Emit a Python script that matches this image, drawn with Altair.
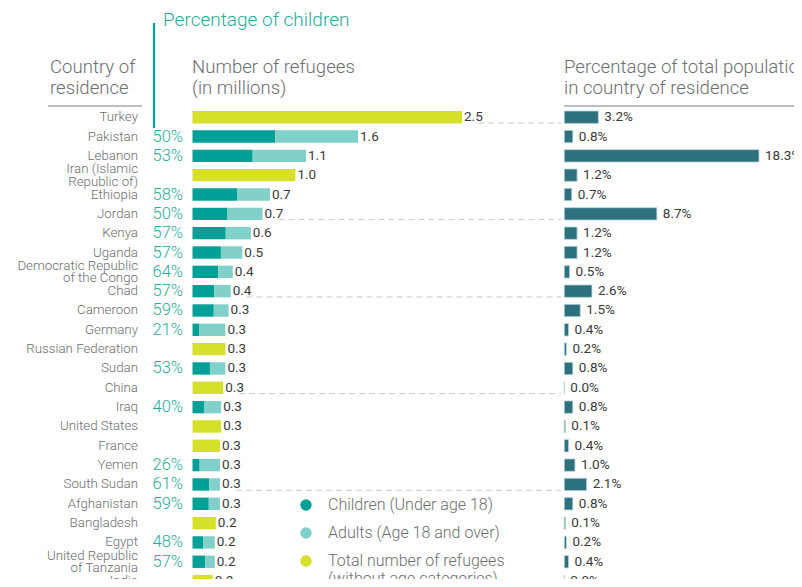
import altair as alt
import pandas as pd

countries = ["Turkey", "Pakistan", "Lebanon", "Iran (Islamic\nRepublic of)", "Ethiopia", "Jordan",
             "Kenya", "Uganda", "Democratic Republic\nof the Congo", "Chad", "Cameroon", "Germany",
             "Russian Federation", "Sudan", "China", "Iraq", "United States", "France", "Yemen",
             "South Sudan", "Afghanistan", "Bangladesh", "Egypt", "United Republic\nof Tanzania", "India"]
refugees_millions = [2.54, 1.56, 1.07, 0.97, 0.73, 0.66, 0.55, 0.47, 0.38, 0.36, 0.34, 0.31, 0.31,
                     0.31, 0.29, 0.27, 0.27, 0.26, 0.26, 0.26, 0.26, 0.22, 0.21, 0.21, 0.19]
children_pct = [None, 50, 53, None, 58, 50, 57, 57, 64, 57, 59, 21, None, 53, None, 40, None, None,
                26, 61, 59, None, 48, 57, None]
population_pct = [3.2, 0.8, 18.3, 1.2, 0.7, 8.7, 1.2, 1.2, 0.5, 2.6, 1.5, 0.4, 0.2, 0.8, 0.0, 0.8,
                  0.1, 0.4, 1.0, 2.1, 0.8, 0.1, 0.2, 0.4, 0.0]
dashed_after = ["Turkey", "Jordan", "Chad", "China", "South Sudan", "India"]
segments = ["Children (Under age 18)", "Adults (Age 18 and over)",
            "Total number of refugees (without age categories)"]
segment_colors = ["#00a096", "#82d0ca", "#d6df2a"]

GREY = "#6d6e71"
DARK = "#3a3a3a"
TEAL_TXT = "#2aaa9c"
FONT = "Roboto"

rows = pd.DataFrame({
    "country": countries,
    "total": refugees_millions,
    "pct": children_pct,
    "pop": population_pct,
    "row": list(range(len(countries))),
})
rows["pct_label"] = rows["pct"].apply(lambda v: "" if pd.isna(v) else f"{int(v)}%")
rows["dashed"] = rows["country"].isin(dashed_after)

segs = []
for _, r in rows.iterrows():
    if pd.isna(r["pct"]):
        segs.append({"row": r["row"], "segment": segments[2], "start": 0.0, "end": r["total"]})
    else:
        c = r["total"] * r["pct"] / 100.0
        segs.append({"row": r["row"], "segment": segments[0], "start": 0.0, "end": c})
        segs.append({"row": r["row"], "segment": segments[1], "start": c, "end": r["total"]})
segs = pd.DataFrame(segs)

xl = alt.Scale(domain=[0, 2.54], range=[184.5, 454], nice=False, zero=False)
xr = alt.Scale(domain=[0, 18.3], range=[556.3, 751], nice=False, zero=False)
ys = alt.Scale(domain=[0, 24], range=[109.2, 573.1], nice=False, zero=False)

bars = alt.Chart(segs).transform_calculate(
    top="datum.row - 0.32", bot="datum.row + 0.32"
).mark_rect().encode(
    x=alt.X("start:Q", scale=xl, axis=None),
    x2="end:Q",
    y=alt.Y("top:Q", scale=ys, axis=None),
    y2="bot:Q",
    color=alt.Color("segment:N", scale=alt.Scale(domain=segments, range=segment_colors),
                    legend=alt.Legend(
                        title=None, orient="none", legendX=290, legendY=489,
                        symbolType="circle", symbolSize=130, symbolStrokeWidth=0,
                        labelFont=FONT, labelFontSize=16, labelColor=GREY, labelFontWeight=300,
                        labelOffset=14, labelLimit=400, rowPadding=12,
                        labelExpr="split(replace(datum.label, ' (without', '|(without'), '|')")),
)

value_labels = alt.Chart(rows).mark_text(
    align="left", baseline="middle", dx=2, font=FONT, fontSize=13.5, color=DARK
).encode(
    x=alt.X("total:Q", scale=xl, axis=None),
    y=alt.Y("row:Q", scale=ys, axis=None),
    text=alt.Text("total:Q", format=".1f"),
)

pct_labels = alt.Chart(rows).mark_text(
    align="right", baseline="middle", font=FONT, fontSize=16.5, color=TEAL_TXT, fontWeight=300
).encode(
    x=alt.value(175),
    y=alt.Y("row:Q", scale=ys, axis=None),
    text="pct_label:N",
)

country_labels = alt.Chart(rows).transform_calculate(
    ty="indexof(datum.country, '\\n') >= 0 ? datum.row - 0.32 : datum.row"
).mark_text(
    align="right", baseline="middle", font=FONT, fontSize=13.3, color=GREY, fontWeight=300,
    lineBreak="\n", lineHeight=12.5
).encode(
    x=alt.value(130),
    y=alt.Y("ty:Q", scale=ys, axis=None),
    text="country:N",
)

pop_bars = alt.Chart(rows).transform_calculate(
    base="0", top="datum.row - 0.32", bot="datum.row + 0.32"
).mark_rect(color="#2e717e", stroke="#b9d3d7", strokeWidth=0.8).encode(
    x=alt.X("base:Q", scale=xr, axis=None),
    x2="pop:Q",
    y=alt.Y("top:Q", scale=ys, axis=None),
    y2="bot:Q",
)

pop_labels = alt.Chart(rows).transform_calculate(
    lab="format(datum.pop, '.1f') + '%'"
).mark_text(
    align="left", baseline="middle", dx=6, font=FONT, fontSize=13.5, color=DARK
).encode(
    x=alt.X("pop:Q", scale=xr, axis=None),
    y=alt.Y("row:Q", scale=ys, axis=None),
    text="lab:N",
)

dashes = alt.Chart(rows).transform_filter("datum.dashed").transform_calculate(
    xs="datum.total + 0.15", yd="datum.row + 0.3"
).mark_rule(color="#c9c9c9", strokeDash=[6, 4], strokeWidth=1).encode(
    x=alt.X("xs:Q", scale=xl, axis=None),
    x2=alt.value(553),
    y=alt.Y("yd:Q", scale=ys, axis=None),
)


def header(text, x, y, size, color, align="left"):
    return alt.Chart(pd.DataFrame({"t": [text]})).mark_text(
        align=align, baseline="alphabetic", font=FONT, fontSize=size, color=color,
        fontWeight=300, lineBreak="\n", lineHeight=21
    ).encode(x=alt.value(x), y=alt.value(y), text="t:N")


headers = [
    header("Percentage of children", 155, 18, 19, TEAL_TXT),
    header("Country of\nresidence", 42, 65, 18.6, GREY),
    header("Number of refugees\n(in millions)", 184, 65, 18.6, GREY),
    header("Percentage of total population\nin country of residence", 556, 65, 18.6, GREY),
]

rule_src = pd.DataFrame({"k": [0]})
rule_country = alt.Chart(rule_src).mark_rule(color="#a7a9ac", strokeWidth=1.5).encode(
    x=alt.value(40), x2=alt.value(134), y=alt.value(98))
rule_right = alt.Chart(rule_src).mark_rule(color="#a7a9ac", strokeWidth=1.5).encode(
    x=alt.value(556), x2=alt.value(786), y=alt.value(98))
rule_teal = alt.Chart(rule_src).mark_rule(color="#00a096", strokeWidth=2.2).encode(
    x=alt.value(146), y=alt.value(15), y2=alt.value(120))

chart = alt.layer(
    dashes, bars, pop_bars, value_labels, pct_labels, country_labels, pop_labels,
    rule_country, rule_right, rule_teal, *headers
).resolve_scale(x="independent").properties(
    width=786, height=571, padding=0, autosize=alt.AutoSizeParams(type="none")
).configure_view(stroke=None)

chart.save("out.html", embed_options={"renderer": "svg", "actions": False})
